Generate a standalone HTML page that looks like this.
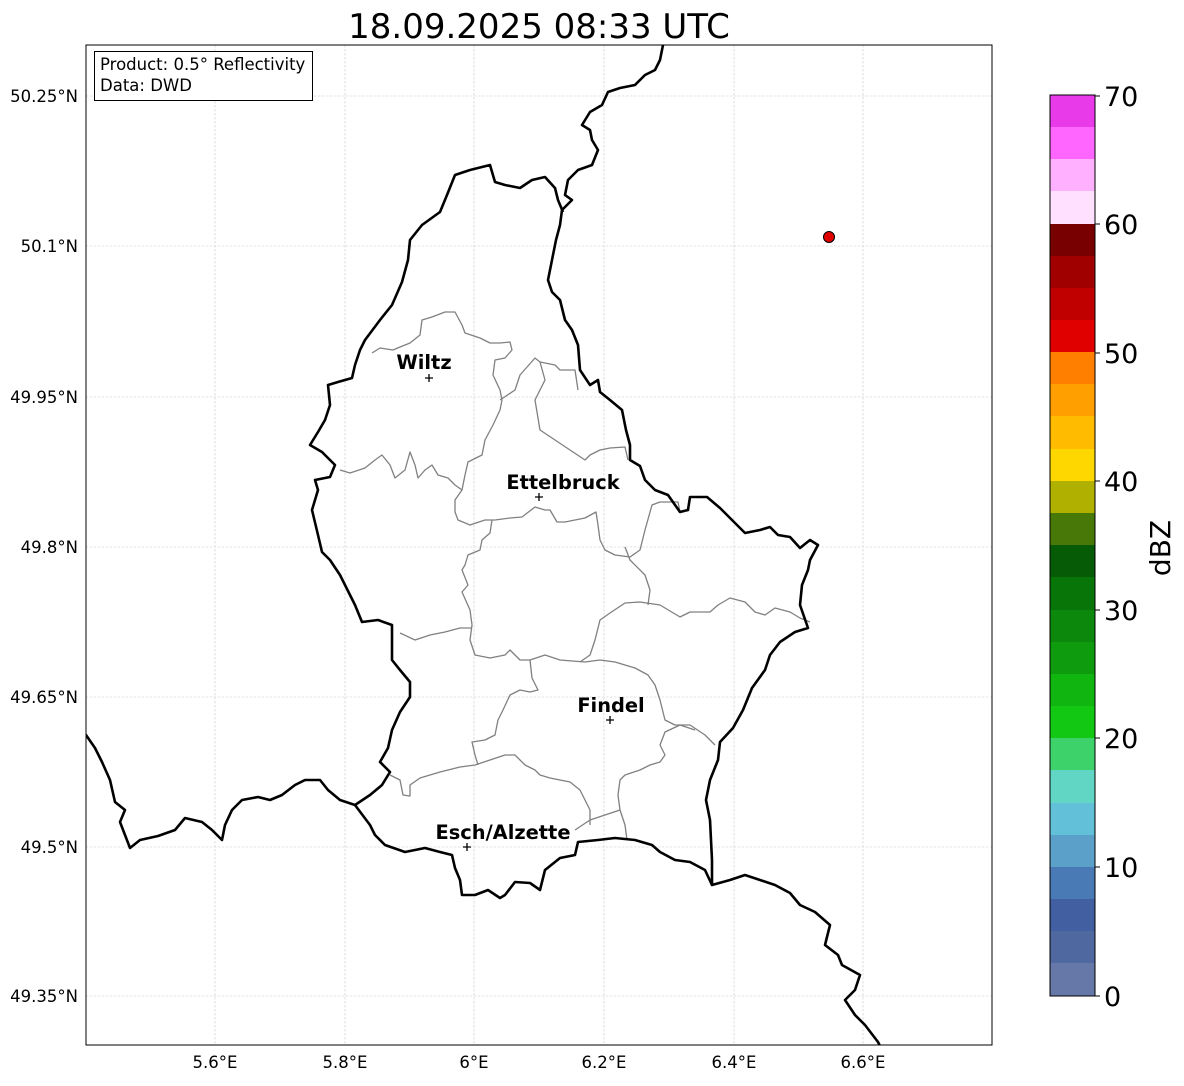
<!DOCTYPE html>
<html><head><meta charset="utf-8"><style>
body{margin:0;background:#fff}
svg text{font-family:"DejaVu Sans","Liberation Sans",sans-serif}
</style></head><body>
<svg width="1184" height="1081" viewBox="0 0 1184 1081" xmlns="http://www.w3.org/2000/svg">
<rect width="1184" height="1081" fill="#fff"/>
<text x="539" y="38" font-size="34" text-anchor="middle">18.09.2025 08:33 UTC</text>
<defs><clipPath id="c"><rect x="86" y="45" width="906" height="1000"/></clipPath></defs>
<g stroke="#c8c8c8" stroke-width="0.6" stroke-dasharray="2.5,1.5">
<line x1="215" y1="45" x2="215" y2="1045"/><line x1="345" y1="45" x2="345" y2="1045"/><line x1="474" y1="45" x2="474" y2="1045"/><line x1="604" y1="45" x2="604" y2="1045"/><line x1="734" y1="45" x2="734" y2="1045"/><line x1="863" y1="45" x2="863" y2="1045"/>
<line x1="86" y1="96" x2="992" y2="96"/><line x1="86" y1="246" x2="992" y2="246"/><line x1="86" y1="397" x2="992" y2="397"/><line x1="86" y1="547" x2="992" y2="547"/><line x1="86" y1="697" x2="992" y2="697"/><line x1="86" y1="847" x2="992" y2="847"/><line x1="86" y1="996" x2="992" y2="996"/>
</g>
<g clip-path="url(#c)" fill="none" stroke-linejoin="round">
<g stroke="#808080" stroke-width="1.3">
<path d="M372,353 L380,348 L393,350 L400,347 L410,343 L420,335 L422,320 L432,317 L445,312 L455,312 L462,325 L465,333 L480,338 L490,343 L500,343 L510,342 L512,350 L505,358 L495,360 L493,375 L500,390 L502,400"/>
<path d="M340,470 L350,473 L365,468 L375,460 L382,455 L390,465 L395,478 L405,470 L410,452 L415,465 L418,478 L425,470 L432,465 L438,475 L448,478 L455,485 L462,490"/>
<path d="M502,400 L500,410 L493,425 L485,440 L482,455 L468,462 L465,475 L462,490 L455,500 L455,512 L458,520 L470,525 L485,520 L495,520 L510,518 L522,517 L535,507 L545,510 L550,510 L557,522 L565,522 L575,520 L585,518 L596,512 L598,525 L600,540 L605,550 L615,555 L630,557 L640,550 L645,530 L652,505 L660,502 L678,502 L680,512"/>
<path d="M500,400 L515,390 L520,375 L535,358 L540,362 L545,380 L535,400 L540,430 L555,440 L570,450 L585,460 L590,455 L600,450 L610,448 L625,447 L628,460"/>
<path d="M540,362 L555,365 L560,370 L575,370 L578,390"/>
<path d="M625,547 L630,560 L645,575 L650,590 L648,605"/>
<path d="M492,520 L490,533 L482,540 L480,550 L468,555 L465,565 L462,570 L468,585 L462,592 L470,610 L472,625 L470,640 L475,655 L490,658 L505,655 L510,650 L520,660 L530,660 L545,655 L560,660 L585,662 L600,660 L615,662 L635,668 L648,675 L655,685 L660,700 L665,720 L675,725 L690,725 L705,735 L715,745"/>
<path d="M400,633 L415,640 L430,635 L445,632 L460,628 L472,628"/>
<path d="M580,662 L590,655 L595,640 L600,620 L610,613 L625,603 L640,602 L660,605 L680,617 L690,612 L710,612 L718,605 L730,598 L745,602 L755,612 L765,615 L775,608 L790,612 L800,618 L810,622"/>
<path d="M530,660 L532,678 L538,690 L530,692 L520,690 L510,695 L503,710 L498,720 L495,735 L485,740 L472,742 L475,755 L478,765"/>
<path d="M390,775 L400,780 L403,795 L410,796 L410,785 L420,778 L430,775 L440,772 L460,767 L475,765 L490,760 L505,755 L515,755 L520,760 L525,765 L535,770 L540,775 L550,778 L560,780 L570,782 L580,790 L585,800 L590,810 L590,825"/>
<path d="M575,830 L590,820 L605,815 L620,810 L625,825 L627,840"/>
<path d="M620,810 L618,795 L620,780 L625,775 L640,770 L650,765 L660,762 L665,755 L660,745 L665,732 L680,725 L695,730"/>
</g>
<g stroke="#000" stroke-width="2.6">
<path d="M663,45 L660,60 L655,70 L645,75 L635,85 L620,88 L608,92 L602,105 L590,112 L582,125 L590,130 L592,140 L598,150 L592,165 L578,170 L568,180 L565,195 L572,200 L562,210 L560,225 L556,240 L552,260 L548,280 L552,292 L560,300 L565,320 L572,330 L578,345 L580,370 L590,385 L598,380 L600,392 L610,400 L622,410 L626,430 L630,445 L630,460 L640,466 L645,480 L655,490 L668,495 L680,512 L688,510 L690,497 L707,497 L720,508 L732,520 L745,533 L760,530 L770,527 L778,535 L790,537 L800,548 L810,540 L818,545 L810,560 L808,570 L802,585 L800,605 L808,628 L795,632 L780,642 L770,655 L765,670 L752,688 L743,710 L733,728 L720,742 L718,760 L710,780 L706,800 L710,820 L712,860 L712,885 L730,880 L745,875 L760,880 L775,885 L790,893 L800,905 L815,912 L830,925 L825,945 L838,955 L842,965 L860,975 L855,990 L845,1000 L855,1015 L865,1025 L878,1042 L882,1050"/>
<path d="M712,885 L705,870 L690,862 L675,860 L660,852 L652,845 L635,840 L615,838 L598,840 L578,842 L575,855 L560,858 L545,870 L540,890 L530,883 L515,882 L505,895 L500,898 L488,890 L475,895 L462,895 L460,880 L455,868 L452,855 L440,852 L425,848 L405,852 L385,845 L375,835 L370,825 L355,805 L370,795 L382,785 L390,772 L380,762 L388,748 L392,730 L400,712 L410,697 L410,682 L400,670 L392,660 L392,642 L392,625 L378,620 L362,622 L355,605 L345,585 L340,575 L330,560 L322,552 L318,535 L312,510 L318,490 L315,480 L330,477 L335,465 L322,452 L310,445 L318,432 L325,420 L330,405 L328,385 L338,382 L352,378 L355,365 L360,350 L365,340 L380,320 L392,305 L402,282 L408,260 L410,240 L422,225 L440,212 L447,195 L455,175 L470,170 L490,165 L495,182 L505,185 L520,188 L532,180 L545,177 L555,188 L558,200 L563,212"/>
<path d="M355,805 L340,800 L328,790 L320,780 L305,780 L295,785 L282,795 L270,800 L258,797 L242,800 L232,810 L225,825 L222,840 L212,830 L202,822 L185,818 L175,830 L158,836 L140,840 L130,848 L125,835 L120,822 L125,810 L115,802 L110,780 L102,762 L95,748 L86,735 L80,730"/>
</g>
</g>
<rect x="86" y="45" width="906" height="1000" fill="none" stroke="#000" stroke-width="1"/>
<rect x="94.5" y="51.5" width="218" height="49" fill="#fff" stroke="#000" stroke-width="1"/>
<text x="100" y="70" font-size="16.5">Product: 0.5° Reflectivity</text>
<text x="100" y="91" font-size="16.5">Data: DWD</text>
<circle cx="829" cy="237" r="5.5" fill="#e00000" stroke="#000" stroke-width="1"/>
<g font-size="19.4" font-weight="bold" text-anchor="middle">
<text x="424" y="369">Wiltz</text><text x="563" y="489">Ettelbruck</text><text x="611" y="712">Findel</text><text x="503" y="839">Esch/Alzette</text>
</g>
<g stroke="#000" stroke-width="1.3">
<path d="M425,378h8M429,374v8"/><path d="M535,497h8M539,493v8"/><path d="M606,720h8M610,716v8"/><path d="M463,847h8M467,843v8"/>
</g>
<g font-size="16.5" text-anchor="middle">
<text x="215" y="1068">5.6°E</text><text x="345" y="1068">5.8°E</text><text x="474" y="1068">6°E</text><text x="604" y="1068">6.2°E</text><text x="734" y="1068">6.4°E</text><text x="863" y="1068">6.6°E</text>
</g>
<g font-size="16.5" text-anchor="end">
<text x="78" y="102">50.25°N</text><text x="78" y="252">50.1°N</text><text x="78" y="403">49.95°N</text><text x="78" y="553">49.8°N</text><text x="78" y="703">49.65°N</text><text x="78" y="853">49.5°N</text><text x="78" y="1002">49.35°N</text>
</g>
<g>
<rect x="1050" y="95" width="45" height="33" fill="#e83ae8"/>
<rect x="1050" y="127" width="45" height="33" fill="#ff66ff"/>
<rect x="1050" y="159" width="45" height="33" fill="#ffb0ff"/>
<rect x="1050" y="191" width="45" height="33" fill="#ffe0ff"/>
<rect x="1050" y="224" width="45" height="33" fill="#780000"/>
<rect x="1050" y="256" width="45" height="33" fill="#a00000"/>
<rect x="1050" y="288" width="45" height="33" fill="#c00000"/>
<rect x="1050" y="320" width="45" height="33" fill="#e00000"/>
<rect x="1050" y="352" width="45" height="33" fill="#ff7f00"/>
<rect x="1050" y="384" width="45" height="33" fill="#ff9f00"/>
<rect x="1050" y="416" width="45" height="33" fill="#ffbb00"/>
<rect x="1050" y="449" width="45" height="33" fill="#ffd700"/>
<rect x="1050" y="481" width="45" height="33" fill="#b0b000"/>
<rect x="1050" y="513" width="45" height="33" fill="#487808"/>
<rect x="1050" y="545" width="45" height="33" fill="#065c06"/>
<rect x="1050" y="577" width="45" height="33" fill="#077507"/>
<rect x="1050" y="610" width="45" height="33" fill="#0c880c"/>
<rect x="1050" y="642" width="45" height="33" fill="#0e9c0e"/>
<rect x="1050" y="674" width="45" height="33" fill="#10b510"/>
<rect x="1050" y="706" width="45" height="33" fill="#13c813"/>
<rect x="1050" y="738" width="45" height="33" fill="#3ed36a"/>
<rect x="1050" y="770" width="45" height="33" fill="#62d6c4"/>
<rect x="1050" y="803" width="45" height="33" fill="#62c0d8"/>
<rect x="1050" y="835" width="45" height="33" fill="#5aa0c8"/>
<rect x="1050" y="867" width="45" height="33" fill="#4a7ab6"/>
<rect x="1050" y="899" width="45" height="33" fill="#425fa2"/>
<rect x="1050" y="931" width="45" height="33" fill="#4f69a0"/>
<rect x="1050" y="963" width="45" height="33" fill="#6678a8"/>
<rect x="1050" y="95" width="45" height="901" fill="none" stroke="#000" stroke-width="1"/>
</g>
<g stroke="#000" stroke-width="1">
<path d="M1095,96h5M1095,224h5M1095,353h5M1095,481h5M1095,610h5M1095,738h5M1095,867h5M1095,996h5"/>
</g>
<g font-size="27">
<text x="1104" y="106">70</text><text x="1104" y="234">60</text><text x="1104" y="363">50</text><text x="1104" y="491">40</text><text x="1104" y="620">30</text><text x="1104" y="748">20</text><text x="1104" y="877">10</text><text x="1104" y="1006">0</text>
</g>
<text transform="translate(1170,548) rotate(-90)" font-size="28" text-anchor="middle">dBZ</text>
</svg>
</body></html>
